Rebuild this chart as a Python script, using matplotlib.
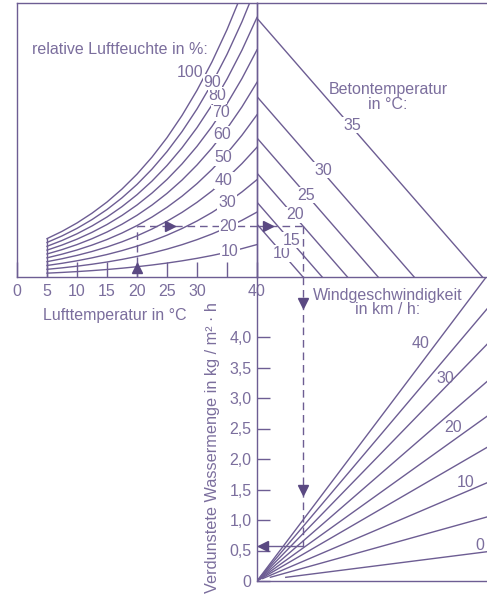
import numpy as np
import matplotlib
matplotlib.use("Agg")
import matplotlib.pyplot as plt

plt.rcParams['font.family'] = ['Liberation Sans', 'DejaVu Sans']

# saturation vapour pressure (hPa) over the air temperature axis
air_temp = [5, 7.5, 10, 12.5, 15, 17.5, 20, 22.5, 25, 27.5, 30, 32.5, 35, 37.5, 40]
sat_press = [8.72, 10.37, 12.28, 14.50, 17.04, 19.99, 23.37, 27.25, 31.67,
             36.71, 42.43, 48.90, 56.22, 64.47, 73.75]
rel_hum = [10, 20, 30, 40, 50, 60, 70, 80, 90, 100]

# concrete temperature lines (start level in hPa)
concrete_temp = [10, 15, 20, 25, 30, 35]
concrete_press = [12.0, 17.0, 23.6, 31.6, 41.0, 58.8]

# wind speed lines: evaporation at the right edge (60 hPa)
wind_speed = [0, 5, 10, 15, 20, 25, 30, 35, 40]
wind_evap = [0.48, 1.05, 1.61, 2.19, 2.70, 3.27, 3.88, 4.46, 5.0]

evap_ticks = [0, 0.5, 1.0, 1.5, 2.0, 2.5, 3.0, 3.5, 4.0]
evap_labels = ['0', '0,5', '1,0', '1,5', '2,0', '2,5', '3,0', '3,5', '4,0']

# worked example
ex_air = 20
ex_rh = 50
ex_concrete = 20
ex_evap = 0.57

LINE = '#6d5d93'
TEXT = '#7b6e9d'
DARK = '#5a4982'
FS = 11.5

W, H = 487, 595
fig = plt.figure(figsize=(W / 100, H / 100), dpi=100)
fig.patch.set_facecolor('white')

ax_t = fig.add_axes([17 / W, 1 - 277 / H, 240 / W, 274 / H])
ax_c = fig.add_axes([257 / W, 1 - 277 / H, 230 / W, 274 / H])
ax_w = fig.add_axes([257 / W, 1 - 581 / H, 230 / W, 304 / H])

e_top = 274 / 4.4
ax_t.set_xlim(0, 40)
ax_t.set_ylim(0, e_top)
ax_c.set_xlim(0, 60)
ax_c.set_ylim(0, e_top)
ax_w.set_xlim(0, 60)
ax_w.set_ylim(0, 304 / 61)

for ax in (ax_t, ax_c, ax_w):
    ax.set_facecolor('none')
    for s in ax.spines.values():
        s.set_color(LINE)
        s.set_linewidth(1.0)
ax_c.spines['right'].set_visible(False)
ax_w.spines['right'].set_visible(False)
ax_w.spines['top'].set_visible(False)

# --- air temperature / humidity panel
ax_t.set_xticks([0, 5, 10, 15, 20, 25, 30, 40])
ax_t.set_xticks([35], minor=True)
ax_t.set_yticks([])
ax_t.tick_params(axis='x', which='both', direction='in', length=11, width=1.0,
                 color=LINE, labelcolor=TEXT, labelsize=FS, pad=5)

ax_t.plot([air_temp[0], air_temp[0]], [0, sat_press[0]], color=LINE, lw=1.0)
sat = np.array(sat_press)
for rh in rel_hum:
    ax_t.plot(air_temp, rh / 100 * sat, color=LINE, lw=1.0)

lab_t = [35.5, 35.2, 35.0, 34.5, 34.3, 34.2, 34.0, 33.4, 32.6]
for rh, t in zip(rel_hum[:-1], lab_t):
    e = rh / 100 * np.interp(t, air_temp, sat_press)
    ax_t.text(t, e, str(rh), color=TEXT, fontsize=FS, ha='center', va='center',
              bbox=dict(boxstyle='square,pad=0.05', fc='white', ec='none'))
ax_t.text(28.8, 46.4, '100', color=TEXT, fontsize=FS, ha='center', va='center')

ax_t.text(17.2, 51.6, 'relative Luftfeuchte in %:', color=TEXT, fontsize=FS,
          ha='center', va='center')
ax_t.text(16.3, -8.8, 'Lufttemperatur in °C', color=TEXT, fontsize=FS,
          ha='center', va='center', clip_on=False)

# --- concrete temperature panel
ax_c.set_xticks([])
ax_c.set_yticks([])
for cp in concrete_press:
    ax_c.plot([0, cp], [cp, 0], color=LINE, lw=1.0)
lab_c = [(6.5, 5.4), (9.1, 8.4), (9.9, 14.1), (12.8, 18.6), (17.2, 24.3), (24.8, 34.5)]
for tc, (x, y) in zip(concrete_temp, lab_c):
    ax_c.text(x, y, str(tc), color=TEXT, fontsize=FS, ha='center', va='center',
              bbox=dict(boxstyle='square,pad=0.05', fc='white', ec='none'))
ax_c.text(34.2, 40.9, 'Betontemperatur\nin °C:', color=TEXT, fontsize=FS,
          ha='center', va='center', linespacing=0.95)

# --- wind / evaporation panel
ax_w.set_xticks([])
ax_w.set_yticks(evap_ticks)
ax_w.set_yticklabels(evap_labels)
ax_w.tick_params(axis='y', direction='in', length=9.5, width=1.0, color=LINE,
                 labelcolor=TEXT, labelsize=FS, pad=4)

starts = [7.5, 3.5, 1.5, 0, 0, 0, 0, 0, 0]
for ws, ev, x0 in zip(wind_speed, wind_evap, starts):
    ax_w.plot([x0, 60], [x0 * ev / 60, ev], color=LINE, lw=1.0)

lab_w = {40: (42.6, 3.90), 30: (49.1, 3.32), 20: (51.2, 2.51), 10: (54.3, 1.62), 0: (58.2, 0.59)}
for ws, (x, y) in lab_w.items():
    ax_w.text(x, y, str(ws), color=TEXT, fontsize=FS, ha='center', va='center')
ax_w.text(34.2, 4.57, 'Windgeschwindigkeit\nin km / h:', color=TEXT, fontsize=FS,
          ha='center', va='center', linespacing=0.95)
ax_w.text(-11.7, 2.19, 'Verdunstete Wassermenge in kg / m² · h', color=TEXT,
          fontsize=11.7, rotation=90, ha='center', va='center', clip_on=False)

# --- worked example (dashed path)
ex_e = ex_rh / 100 * np.interp(ex_air, air_temp, sat_press)
ex_diff = np.interp(ex_concrete, concrete_temp, concrete_press) - ex_e
dash = dict(color=LINE, lw=1.0, dashes=(5.5, 3.5))

ax_t.plot([ex_air, ex_air], [0, ex_e], **dash)
ax_t.plot([ex_air, 40], [ex_e, ex_e], **dash)
ax_c.plot([0, ex_diff], [ex_e, ex_e], **dash)
ax_c.plot([ex_diff, ex_diff], [ex_e, 0], **dash)
ax_w.plot([ex_diff, ex_diff], [ax_w.get_ylim()[1], ex_evap], **dash)
ax_w.plot([ex_diff, 0], [ex_evap, ex_evap], color=LINE, lw=1.0)

mk = dict(color=DARK, markersize=7, ls='none', clip_on=False)
ax_t.plot([ex_air], [2.0], marker='^', **mk)
ax_t.plot([25.5], [ex_e], marker='>', **mk)
ax_c.plot([2.9], [ex_e], marker='>', **mk)
ax_w.plot([ex_diff, ex_diff], [4.56, 1.49], marker='v', **mk)
ax_w.plot([1.5], [ex_evap], marker='<', **mk)

fig.savefig('out.png', dpi=100, facecolor='white')
